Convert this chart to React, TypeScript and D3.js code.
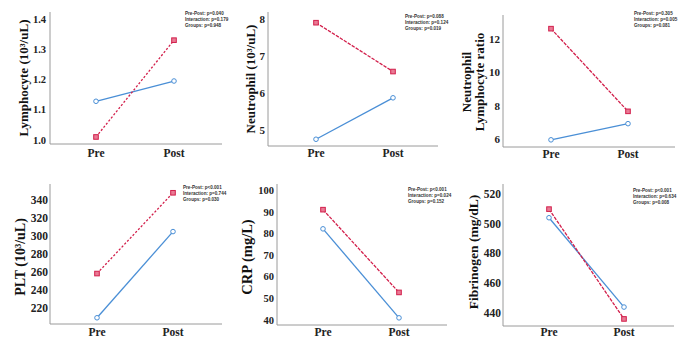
import * as d3 from "d3";

// --- data ---
const timepoints = ["Pre", "Post"];
const yLabels = [
  ["Lymphocyte (10³/uL)"],
  ["Neutrophil (10³/uL)"],
  ["Neutrophil", "Lymphocyte ratio"],
  ["PLT (10³/uL)"],
  ["CRP (mg/L)"],
  ["Fibrinogen (mg/dL)"],
];
const yTicks = [
  [1.0, 1.1, 1.2, 1.3, 1.4],
  [5, 6, 7, 8],
  [6, 8, 10, 12],
  [220, 240, 260, 280, 300, 320, 340],
  [40, 50, 60, 70, 80, 90, 100],
  [440, 460, 480, 500, 520],
];
const tickDecimals = [1, 0, 0, 0, 0, 0];
// blue group (solid line, open circles)
const blueValues = [
  [1.128, 1.195],
  [4.75, 5.87],
  [5.95, 6.92],
  [209.5, 305],
  [82.3, 41],
  [504, 443.8],
];
// red group (dashed line, squares)
const redValues = [
  [1.01, 1.33],
  [7.9, 6.58],
  [12.62, 7.66],
  [258.5, 348],
  [91.2, 52.8],
  [509.8, 435.8],
];
const statLines = [
  ["Pre-Post: p=0.040", "Interaction: p=0.179", "Groups: p=0.948"],
  ["Pre-Post: p=0.088", "Interaction: p=0.124", "Groups: p=0.019"],
  ["Pre-Post: p=0.305", "Interaction: p=0.005", "Groups: p=0.081"],
  ["Pre-Post: p<0.001", "Interaction: p=0.744", "Groups: p=0.030"],
  ["Pre-Post: p<0.001", "Interaction: p=0.024", "Groups: p=0.152"],
  ["Pre-Post: p<0.001", "Interaction: p=0.634", "Groups: p=0.008"],
];

// --- layout of each small panel (pixels) ---
const layout = [
  { ax: 50, right: 222, top: 12, bottom: 144, yr: [140, 19], xr: [96, 174], lx: 23, ly: 78, lfs: 13, tfs: 10.5, tg: 4, xly: 153, sx: 185, sy: 13, dash: "2.2,1.8" },
  { ax: 268, right: 438, top: 12, bottom: 146, yr: [130, 19], xr: [316, 393], lx: 250, ly: 79, lfs: 13, tfs: 11, tg: 3, xly: 153, sx: 405, sy: 16, dash: "3.5,1.2" },
  { ax: 503, right: 675, top: 15, bottom: 147, yr: [139, 39], xr: [551, 628], lx: 473, ly: 82, lfs: 13, tfs: 11, tg: 3, xly: 154, sx: 634, sy: 13, dash: "3.5,1.2" },
  { ax: 50, right: 222, top: 184, bottom: 324, yr: [308.3, 200], xr: [97, 173], lx: 20, ly: 257, lfs: 14, tfs: 11.5, tg: 2, xly: 332, sx: 183, sy: 187, dash: "2.2,1.8" },
  { ax: 277, right: 447, top: 184, bottom: 325, yr: [320, 190.7], xr: [323, 399], lx: 247, ly: 257, lfs: 14.5, tfs: 10.5, tg: 3, xly: 332, sx: 408, sy: 189, dash: "3.5,1.2" },
  { ax: 503, right: 674, top: 184, bottom: 326, yr: [312.7, 194], xr: [549, 624], lx: 473, ly: 252, lfs: 13.5, tfs: 11.5, tg: 2, xly: 332, sx: 633, sy: 190, dash: "3.5,1.2" },
];

const BLUE = "#4a8fd6";
const RED = "#d21f4b";
const serif = "'Liberation Serif', 'Times New Roman', serif";
const sans = "'Liberation Sans', Arial, sans-serif";

function Panel({ i }: { i: number }) {
  const L = layout[i];
  const ticks = yTicks[i];
  const y = d3
    .scaleLinear()
    .domain([ticks[0], ticks[ticks.length - 1]])
    .range(L.yr);
  const x = d3.scalePoint().domain(timepoints).range(L.xr);
  const line = d3
    .line<number>()
    .x((_, k) => x(timepoints[k]) as number)
    .y((v) => y(v));
  const fmt = d3.format(`.${tickDecimals[i]}f`);
  const labels = yLabels[i];

  return (
    <g>
      {/* axes */}
      <line x1={L.ax} x2={L.ax} y1={L.top} y2={L.bottom} stroke="#9a9a9a" strokeWidth={1} />
      <line x1={L.ax} x2={L.right} y1={L.bottom} y2={L.bottom} stroke="#9a9a9a" strokeWidth={1} />
      {ticks.map((t) => (
        <text
          key={t}
          x={L.ax - L.tg}
          y={y(t)}
          textAnchor="end"
          dominantBaseline="central"
          fontFamily={serif}
          fontWeight="bold"
          fontSize={L.tfs}
          fill="#222"
        >
          {fmt(t)}
        </text>
      ))}
      {timepoints.map((tp) => (
        <text
          key={tp}
          x={x(tp)}
          y={L.xly}
          textAnchor="middle"
          dominantBaseline="central"
          fontFamily={serif}
          fontWeight="bold"
          fontSize={11.5}
          fill="#222"
        >
          {tp}
        </text>
      ))}
      {/* y-axis title */}
      <g transform={`translate(${L.lx},${L.ly}) rotate(-90)`}>
        {labels.map((s, k) => (
          <text
            key={s}
            x={0}
            y={(k - (labels.length - 1) / 2) * L.lfs}
            textAnchor="middle"
            dominantBaseline="central"
            fontFamily={serif}
            fontWeight="bold"
            fontSize={L.lfs}
            fill="#111"
          >
            {s}
          </text>
        ))}
      </g>
      {/* lines */}
      <path d={line(blueValues[i]) ?? ""} fill="none" stroke={BLUE} strokeWidth={1.3} />
      <path d={line(redValues[i]) ?? ""} fill="none" stroke={RED} strokeWidth={1.3} strokeDasharray={L.dash} />
      {blueValues[i].map((v, k) => (
        <circle key={k} cx={x(timepoints[k])} cy={y(v)} r={2.3} fill="#fff" stroke={BLUE} strokeWidth={1} />
      ))}
      {redValues[i].map((v, k) => (
        <rect
          key={k}
          x={(x(timepoints[k]) as number) - 2.3}
          y={y(v) - 2.3}
          width={4.6}
          height={4.6}
          fill="#e97a94"
          stroke={RED}
          strokeWidth={1}
        />
      ))}
      {/* test results */}
      {statLines[i].map((s, k) => (
        <text
          key={s}
          x={L.sx}
          y={L.sy + k * 6.3}
          dominantBaseline="central"
          fontFamily={sans}
          fontWeight="bold"
          fontSize={4.6}
          fill="#333"
        >
          {s}
        </text>
      ))}
    </g>
  );
}

export default function App() {
  return (
    <div style={{ position: "absolute", left: 0, top: 0, background: "#fff" }}>
      <svg width={680} height={337} style={{ display: "block" }}>
        <rect width={680} height={337} fill="#fff" />
        {layout.map((_, i) => (
          <Panel key={i} i={i} />
        ))}
      </svg>
    </div>
  );
}
